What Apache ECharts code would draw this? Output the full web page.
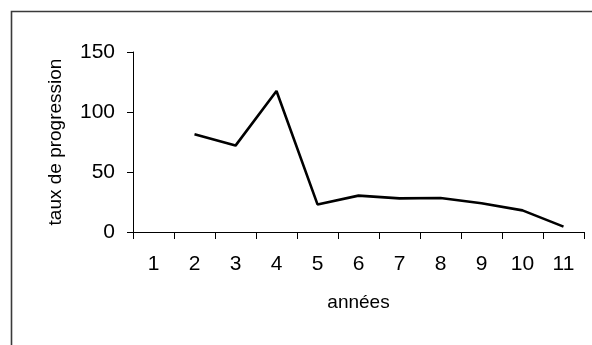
<!DOCTYPE html>
<html>
<head>
<meta charset="utf-8">
<script src="https://cdn.jsdelivr.net/npm/echarts@6/dist/echarts.min.js"></script>
<style>html,body{margin:0;padding:0;background:#fff}#c{width:592px;height:345px}</style>
</head>
<body>
<div id="c"></div>
<script>
const categories = ['1','2','3','4','5','6','7','8','9','10','11'];
const values = [null, 81.5, 72, 117.5, 23, 30.3, 28, 28.3, 24, 18, 4.5];
const yTicks = [0, 50, 100, 150];
const xName = 'années';
const yName = 'taux de progression';

const chart = echarts.init(document.getElementById('c'), null, {renderer: 'canvas'});
chart.setOption({
  animation: false,
  backgroundColor: '#fff',
  graphic: [{
    type: 'rect',
    shape: {x: 11.5, y: 11.5, width: 700, height: 500},
    style: {fill: 'none', stroke: '#3a3a3a', lineWidth: 1.6}
  }],
  grid: {left: 133, top: 52, right: 8, bottom: 113, containLabel: false},
  xAxis: {
    type: 'category',
    data: categories,
    boundaryGap: true,
    name: xName,
    nameLocation: 'middle',
    nameGap: 61,
    nameTextStyle: {fontFamily: "'Liberation Sans', Arial, sans-serif", fontSize: 19, color: '#000'},
    axisLine: {lineStyle: {color: '#000', width: 1}},
    axisTick: {show: true, alignWithLabel: false, length: 7, inside: false, lineStyle: {color: '#000'}},
    axisLabel: {fontFamily: "'Liberation Sans', Arial, sans-serif", fontSize: 21, color: '#000', margin: 22, interval: 0},
    splitLine: {show: false}
  },
  yAxis: {
    type: 'value',
    min: yTicks[0],
    max: yTicks[yTicks.length - 1],
    interval: yTicks[1] - yTicks[0],
    name: yName,
    nameLocation: 'middle',
    nameGap: 68,
    nameRotate: 90,
    nameTextStyle: {fontFamily: "'Liberation Sans', Arial, sans-serif", fontSize: 19, color: '#000'},
    axisLine: {show: true, lineStyle: {color: '#000', width: 1}},
    axisTick: {show: true, length: 6, lineStyle: {color: '#000'}},
    axisLabel: {fontFamily: "'Liberation Sans', Arial, sans-serif", fontSize: 21, color: '#000', margin: 18},
    splitLine: {show: false}
  },
  series: [{
    type: 'line',
    data: values,
    showSymbol: false,
    symbol: 'none',
    connectNulls: false,
    lineStyle: {color: '#000', width: 2.6},
    itemStyle: {color: '#000'}
  }]
});
</script>
</body>
</html>
